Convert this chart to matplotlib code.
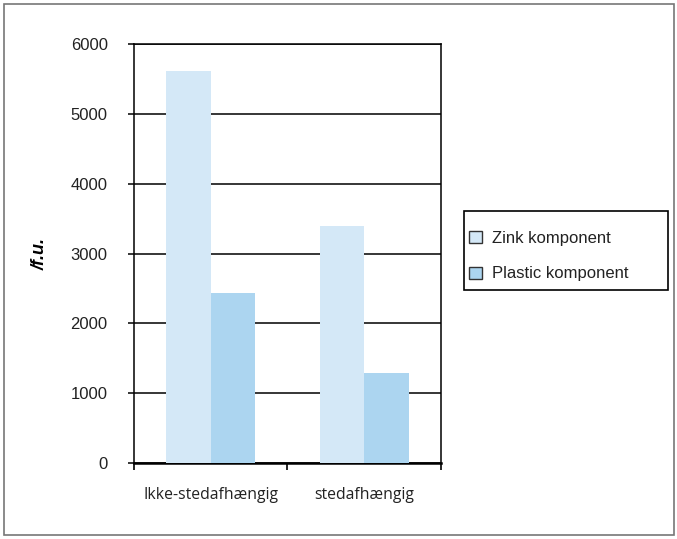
import numpy as np
import matplotlib.pyplot as plt
from matplotlib.patches import Patch, Rectangle

# Data
categories = ['Ikke-stedafhængig', 'stedafhængig']
zink = [5620, 3400]
plastic = [2430, 1290]
series_names = ['Zink komponent', 'Plastic komponent']
yticks = [0, 1000, 2000, 3000, 4000, 5000, 6000]

zink_color = '#d4e8f7'
plastic_color = '#acd5f0'

plt.rcParams['font.family'] = ['Liberation Sans', 'DejaVu Sans']

W, H = 677, 539
fig = plt.figure(figsize=(W / 100, H / 100), dpi=100)
ax = fig.add_axes([0.198, 0.141, 0.453, 0.777])

x = np.arange(len(categories))
w = 0.29
ax.bar(x - w / 2, zink, w, color=zink_color, zorder=3)
ax.bar(x + w / 2, plastic, w, color=plastic_color, zorder=3)

ax.set_xlim(-0.5, 1.5)
ax.set_ylim(0, 6000)
ax.set_yticks(yticks)
ax.set_yticklabels([str(v) for v in yticks], fontsize=12, color='#222222')
ax.yaxis.grid(True, color='black', linewidth=1.1, zorder=1)

# category ticks sit between groups, labels centred under each group
ax.set_xticks([-0.5, 0.5, 1.5])
ax.set_xticklabels([])
ax.set_xticks(x, minor=True)
ax.set_xticklabels(categories, minor=True, fontsize=11.3, family=['Open Sans', 'DejaVu Sans'], color='#222222')
ax.tick_params(axis='x', which='major', length=5, width=1.2, direction='out')
ax.tick_params(axis='x', which='minor', length=0, pad=17)
ax.tick_params(axis='y', length=4, width=1.1, pad=15)

for s in ['left', 'top', 'right']:
    ax.spines[s].set_linewidth(1.1)
ax.spines['bottom'].set_linewidth(1.8)

ax.set_ylabel('/f.u.', fontsize=13, fontweight='bold', fontstyle='italic')
ax.yaxis.set_label_coords(-0.28, 0.5)

# legend entries, frame drawn separately so it can be wider than the text
handles = [Patch(facecolor=zink_color, edgecolor='#333333', linewidth=1),
           Patch(facecolor=plastic_color, edgecolor='#333333', linewidth=1)]
leg = fig.legend(handles, series_names, loc='center left', bbox_to_anchor=(469 / W, 1 - 256 / H),
                 fontsize=12, frameon=False, handlelength=0.75, handleheight=0.75,
                 handletextpad=0.6, labelspacing=1.25, borderpad=0, borderaxespad=0)
for t in leg.get_texts():
    t.set_color('#222222')
fig.patches.append(Rectangle((464 / W, 1 - 290 / H), 204 / W, 79 / H, transform=fig.transFigure,
                             fill=False, edgecolor='black', linewidth=1.2))

# outer frame around the whole chart
fig.patches.append(Rectangle((4 / W, 4 / H), 670 / W, 531 / H, transform=fig.transFigure,
                             fill=False, edgecolor='#777777', linewidth=1.2))

fig.savefig('out.png', dpi=100)
